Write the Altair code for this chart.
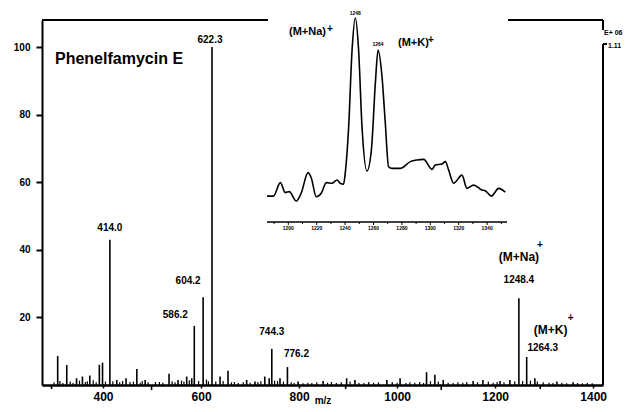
import altair as alt
import pandas as pd

FONT = "Liberation Sans"

# ---------------- data ----------------
peak_mz = [307.5, 326.0, 346.0, 358.0, 373.0, 392.5, 399.0, 414.0, 428.0, 447.0,
           469.0, 486.0, 534.7, 553.0, 570.7, 581.0, 586.2, 604.2, 622.3, 638.8,
           655.0, 693.0, 710.0, 730.0, 739.0, 744.3, 761.0, 776.2, 798.0, 849.0,
           897.0, 914.0, 979.0, 1006.0, 1060.0, 1077.0, 1094.0, 1155.0, 1175.0, 1210.0,
           1230.0, 1248.4, 1264.3, 1281.0, 1326.0, 1359.0]
peak_int = [8.6, 5.9, 2.0, 2.5, 2.8, 6.0, 6.6, 43.0, 1.5, 2.0,
            4.7, 1.5, 3.3, 1.5, 2.5, 2.0, 17.5, 26.0, 100.0, 2.5,
            4.2, 1.5, 1.0, 2.5, 2.0, 10.7, 2.0, 5.3, 1.0, 1.2,
            2.0, 1.5, 1.5, 2.0, 3.8, 3.0, 1.5, 1.2, 1.5, 1.2,
            1.5, 25.7, 8.3, 2.0, 1.0, 0.8]

dip_mz = [295, 499, 895, 1090, 1292]
dip_int = [-1.2, -1.5, -1.2, -1.5, -1.2]

noise_mz = [300, 312, 318, 333, 339, 352, 364, 368, 380, 386,
            405, 420, 434, 440, 455, 462, 476, 480, 492, 507,
            515, 522, 541, 547, 560, 565, 576, 595, 611, 615,
            630, 645, 662, 668, 676, 686, 700, 716, 722, 750,
            756, 768, 784, 790, 808, 818, 826, 836, 858, 866,
            876, 886, 904, 922, 932, 942, 952, 962, 990, 1000,
            1018, 1026, 1036, 1046, 1054, 1068, 1084, 1104, 1114, 1124,
            1134, 1142, 1164, 1186, 1196, 1204, 1218, 1240, 1256, 1272,
            1286, 1298, 1310, 1318, 1336, 1346, 1368, 1378, 1388, 1398]
noise_int = [0.8, 1.2, 0.6, 1.0, 0.7, 1.3, 0.9, 1.1, 1.4, 0.8,
             1.0, 1.1, 0.8, 1.2, 0.9, 1.0, 0.7, 1.2, 0.8, 0.9,
             0.9, 0.7, 1.1, 0.8, 1.3, 1.0, 1.4, 1.2, 1.6, 1.1,
             1.0, 1.2, 0.8, 0.9, 0.6, 0.8, 0.7, 0.9, 1.1, 1.3,
             1.2, 1.0, 0.8, 0.6, 0.5, 0.7, 0.6, 0.8, 0.7, 0.9,
             0.6, 0.8, 1.0, 0.7, 0.6, 0.9, 0.7, 0.8, 0.9, 0.7,
             0.6, 0.8, 0.7, 0.9, 0.6, 1.1, 1.0, 0.7, 0.6, 0.8,
             0.7, 0.9, 0.8, 1.0, 0.7, 0.9, 0.8, 1.1, 1.2, 1.3,
             1.0, 0.8, 0.7, 0.6, 0.7, 0.5, 0.6, 0.5, 0.6, 0.5]

inset_mz = [1185.0, 1189.6, 1194.4, 1197.9, 1200.7, 1205.6, 1209.2, 1213.9, 1216.2, 1219.7,
            1223.2, 1226.8, 1230.8, 1234.3, 1236.6, 1238.9, 1240.1, 1242.5, 1244.9, 1247.2,
            1249.5, 1251.9, 1255.4, 1258.5, 1261.3, 1263.2, 1266.0, 1268.3, 1270.6, 1273.0,
            1278.9, 1285.9, 1290.6, 1295.3, 1301.2, 1303.5, 1308.2, 1310.6, 1312.9, 1316.4,
            1322.3, 1325.8, 1330.5, 1336.4, 1338.7, 1343.0, 1348.1, 1352.8]
inset_int = [12.7, 12.7, 19.3, 14.4, 14.9, 10.3, 14.4, 24.2, 21.6, 12.4,
             14.1, 19.3, 19.0, 20.6, 19.0, 18.5, 24.0, 46.7, 84.3, 100.0,
             84.3, 46.7, 25.0, 35.3, 68.0, 84.3, 71.2, 48.5, 27.1, 26.3,
             26.3, 29.6, 30.4, 30.7, 25.8, 27.9, 28.4, 29.6, 25.5, 19.0,
             23.0, 16.5, 18.1, 15.7, 15.3, 12.7, 16.5, 14.6]
inset_ticks = [1200, 1220, 1240, 1260, 1280, 1300, 1320, 1340]
inset_minor = [1190, 1210, 1230, 1250, 1270, 1290, 1310, 1330, 1350]

x_ticks = [400, 600, 800, 1000, 1200, 1400]
y_ticks = [20, 40, 60, 80, 100]

# ---------------- geometry ----------------
W, H = 561, 365
XDOM = [275.5, 1420]
YDOM = [0, 108]
ixs = alt.Scale(domain=[1185, 1354], range=[225, 465], nice=False, zero=False)
iys = alt.Scale(domain=[0, 100], range=[202, -2], nice=False, zero=False)


def xs():
    return alt.Scale(domain=XDOM, nice=False, zero=False)


def ys():
    return alt.Scale(domain=YDOM, nice=False, zero=False)


one = pd.DataFrame({"k": [0]})
sticks_df = pd.DataFrame({"mz": peak_mz + dip_mz, "intensity": peak_int + dip_int})
noise_df = pd.DataFrame({"mz": noise_mz, "intensity": noise_int})
inset_df = pd.DataFrame({"imz": inset_mz, "iv": inset_int})
itick_df = pd.DataFrame({"t": inset_ticks, "lab": [str(t) for t in inset_ticks]})
iminor_df = pd.DataFrame({"t": inset_minor})

sticks = alt.Chart(sticks_df).mark_rule(color="black", strokeWidth=1.6).encode(
    x=alt.X("mz:Q", scale=xs(), axis=alt.Axis(
        values=x_ticks, format="d", labelFont=FONT, labelFontWeight="bold",
        labelFontSize=12, labelColor="black", tickSize=3, tickWidth=1.5,
        tickColor="black", domainWidth=2.5, domainColor="black", labelPadding=3,
        grid=False, title="m/z", titleFont=FONT, titleFontSize=10,
        titleFontWeight="bold", titleColor="black", titleY=18,
        titleBaseline="alphabetic")),
    y=alt.Y("intensity:Q", scale=ys(), axis=alt.Axis(
        values=y_ticks, format="d", labelFont=FONT, labelFontWeight="bold",
        labelFontSize=10, labelColor="black", tickSize=6, tickWidth=2,
        tickColor="black", domainWidth=2, domainColor="black", labelPadding=6,
        grid=False, title=None)),
    y2=alt.datum(0),
)

noise = alt.Chart(noise_df).mark_rule(color="black", strokeWidth=1.2).encode(
    x=alt.X("mz:Q", scale=xs(), axis=None),
    y=alt.Y("intensity:Q", scale=ys(), axis=None),
    y2=alt.datum(0),
)


def peak_label(text, mzv, iv, dx, dy, size=10):
    return alt.Chart(one).mark_text(
        text=text, dx=dx, dy=dy, font=FONT, fontSize=size, fontWeight="bold",
        color="black", align="center", baseline="middle"
    ).encode(
        x=alt.XDatum(mzv, type="quantitative", scale=xs(), axis=None),
        y=alt.YDatum(iv, type="quantitative", scale=ys(), axis=None),
    )


def vtext(text, x, y, size=10, align="left"):
    return alt.Chart(one).mark_text(
        text=text, font=FONT, fontSize=size, fontWeight="bold", color="black",
        align=align, baseline="middle"
    ).encode(x=alt.value(x), y=alt.value(y))


def rule(x1, x2, y1, y2, w=2):
    return alt.Chart(one).mark_rule(color="black", strokeWidth=w).encode(
        x=alt.value(x1), x2=alt.value(x2), y=alt.value(y1), y2=alt.value(y2))


labels = [
    peak_label("622.3", 622.3, 100.0, -2, -7),
    peak_label("414.0", 414.0, 43.0, 0, -12),
    peak_label("604.2", 604.2, 26.0, -15, -16),
    peak_label("586.2", 586.2, 17.5, -19, -11),
    peak_label("744.3", 744.3, 10.7, 0, -17),
    peak_label("776.2", 776.2, 5.3, 9, -13),
    peak_label("1248.4", 1248.4, 25.7, 0, -18),
    peak_label("(M+Na)", 1248.4, 25.7, 0, -41, 12),
    peak_label("+", 1248.4, 25.7, 21, -53, 10),
    peak_label("1264.3", 1264.3, 8.3, 16, -9),
    peak_label("(M+K)", 1264.3, 8.3, 24, -27, 12),
    peak_label("+", 1264.3, 8.3, 44, -39, 10),
]

frame = [
    rule(0, 226, 0, 0),
    rule(466, 561, 0, 0),
    rule(561, 561, 0, 10),
    rule(561, 561, 24, 365),
    rule(561, 565, 24, 24),
]

texts = [
    vtext("Phenelfamycin E", 13, 39, 16),
    vtext("E+ 06", 562, 13, 7),
    vtext("1.11", 566, 26, 7),
    vtext("(M+Na)", 247, 12, 11),
    vtext("+", 285, 9, 10),
    vtext("(M+K)", 356, 23, 11),
    vtext("+", 386, 20, 10),
]

curve = alt.Chart(inset_df).mark_line(color="black", strokeWidth=1.6,
                                      interpolate="monotone").encode(
    x=alt.X("imz:Q", scale=ixs, axis=None),
    y=alt.Y("iv:Q", scale=iys, axis=None),
)
iaxis = rule(225, 465, 202, 202, 1.6)
iticks = alt.Chart(itick_df).mark_rule(color="black", strokeWidth=1).encode(
    x=alt.X("t:Q", scale=ixs, axis=None), y=alt.value(202), y2=alt.value(205))
iminor = alt.Chart(iminor_df).mark_rule(color="black", strokeWidth=1).encode(
    x=alt.X("t:Q", scale=ixs, axis=None), y=alt.value(202), y2=alt.value(204))
itlabels = alt.Chart(itick_df).mark_text(
    font=FONT, fontSize=5, fontWeight="bold", color="black", baseline="top"
).encode(x=alt.X("t:Q", scale=ixs, axis=None), y=alt.value(206), text="lab:N")


def inset_label(text, mzv, iv, dy):
    return alt.Chart(one).mark_text(
        text=text, dy=dy, font=FONT, fontSize=5, fontWeight="bold",
        color="black", baseline="middle"
    ).encode(
        x=alt.XDatum(mzv, type="quantitative", scale=ixs, axis=None),
        y=alt.YDatum(iv, type="quantitative", scale=iys, axis=None),
    )


chart = alt.layer(
    sticks, noise, *labels, *frame, *texts,
    curve, iaxis, iticks, iminor, itlabels,
    inset_label("1248", 1247.2, 100.0, -5),
    inset_label("1264", 1263.2, 84.3, -6),
).resolve_scale(
    x="independent", y="independent"
).properties(
    width=W, height=H,
    autosize=alt.AutoSizeParams(type="none"),
    padding={"left": 34, "top": 12, "right": 21, "bottom": 19},
    background="white",
).configure_view(stroke=None)

chart.save("out.html", embed_options={"renderer": "svg", "actions": False})
